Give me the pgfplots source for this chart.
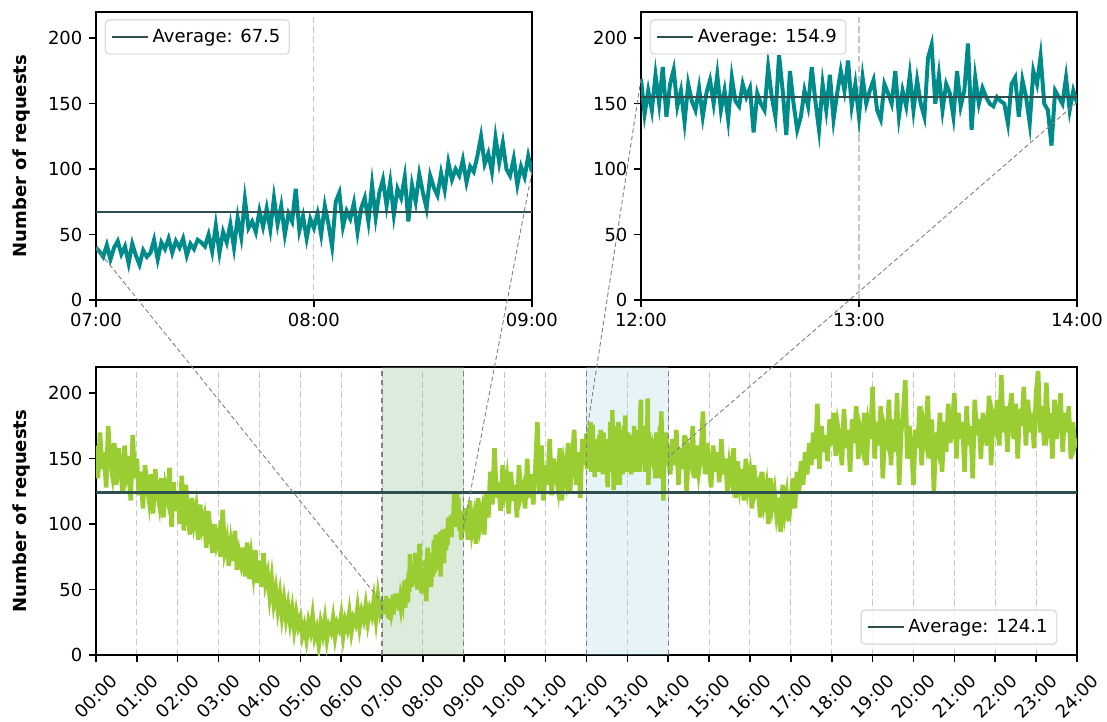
\documentclass[border=0pt]{standalone}
\usepackage{fontspec}
\setmainfont{DejaVu Sans}
\usepackage{pgfplots}
\usepackage{pgfplotstable}
\pgfplotsset{compat=1.18}
\definecolor{tealc}{HTML}{008B8B}
\definecolor{ygreen}{HTML}{9ACD32}
\definecolor{dsg}{HTML}{2F4F4F}
\definecolor{shadeA}{HTML}{8FBC8F}
\definecolor{shadeB}{HTML}{ADD8E6}
\definecolor{gridc}{HTML}{C8C8C8}

% 07:00-09:00, one value per minute
\pgfplotstableread[row sep=\\]{y\\
40\\37\\33\\42\\31\\40\\45\\35\\41\\28\\
43\\34\\27\\38\\33\\36\\46\\31\\44\\39\\
47\\36\\45\\40\\47\\34\\43\\39\\46\\44\\
41\\50\\37\\57\\36\\52\\44\\58\\40\\63\\
48\\77\\55\\60\\52\\68\\56\\70\\54\\78\\
58\\72\\50\\66\\60\\85\\53\\64\\47\\62\\
55\\66\\50\\72\\58\\41\\75\\82\\56\\68\\
62\\74\\52\\70\\78\\60\\88\\63\\82\\92\\
72\\90\\65\\85\\78\\94\\60\\88\\75\\96\\
82\\70\\95\\86\\80\\97\\84\\105\\92\\100\\
95\\107\\90\\102\\98\\110\\125\\104\\112\\98\\
124\\105\\120\\100\\95\\108\\88\\102\\94\\110\\
98\\}\topL

% 12:00-14:00, one value per minute
\pgfplotstableread[row sep=\\]{y\\
169\\142\\160\\145\\172\\150\\178\\140\\165\\176\\
148\\160\\136\\165\\152\\145\\162\\140\\158\\168\\
150\\172\\145\\160\\138\\170\\152\\148\\165\\155\\
162\\128\\158\\150\\145\\178\\155\\140\\187\\160\\
126\\175\\150\\130\\140\\160\\148\\178\\152\\130\\
165\\145\\172\\138\\158\\175\\160\\183\\148\\165\\
140\\170\\150\\160\\168\\145\\138\\165\\158\\150\\
175\\140\\160\\148\\172\\145\\168\\150\\140\\185\\
195\\150\\172\\145\\165\\158\\140\\175\\148\\160\\
196\\130\\170\\150\\162\\155\\150\\148\\155\\152\\
150\\135\\165\\170\\140\\168\\155\\135\\175\\165\\
186\\150\\145\\118\\160\\155\\150\\170\\145\\160\\
151\\}\topR

% 00:00-07:00, every 3 minutes
\pgfplotstableread[row sep=\\]{y\\
160\\135\\170\\142\\155\\128\\175\\148\\138\\162\\130\\158\\145\\125\\160\\140\\152\\118\\168\\135\\
150\\122\\140\\112\\145\\130\\118\\138\\108\\142\\125\\115\\135\\105\\128\\120\\143\\98\\132\\110\\
125\\100\\137\\95\\130\\108\\92\\120\\102\\112\\88\\115\\98\\105\\82\\110\\95\\78\\100\\85\\
92\\75\\111\\80\\88\\68\\85\\72\\95\\65\\78\\70\\82\\60\\86\\58\\75\\62\\80\\55\\
72\\52\\78\\55\\62\\45\\58\\40\\50\\35\\46\\30\\42\\28\\38\\25\\35\\20\\32\\22\\
28\\15\\22\\12\\25\\18\\30\\14\\20\\8\\24\\16\\27\\12\\22\\18\\28\\14\\24\\20\\
30\\15\\26\\20\\32\\18\\28\\24\\36\\22\\33\\27\\38\\25\\35\\30\\42\\28\\45\\33\\40\\}\segA

% 09:00-12:00, every 3 minutes
\pgfplotstableread[row sep=\\]{y\\
98\\112\\88\\118\\95\\105\\85\\120\\100\\110\\92\\
125\\105\\140\\115\\158\\120\\132\\110\\145\\125\\
135\\108\\140\\118\\130\\105\\145\\122\\128\\112\\
150\\120\\138\\115\\142\\178\\125\\160\\118\\145\\
130\\165\\122\\150\\138\\128\\158\\118\\145\\135\\
162\\125\\150\\172\\130\\155\\120\\165\\145\\169\\}\segB

% 14:00-24:00, every 3 minutes
\pgfplotstableread[row sep=\\]{y\\
151\\138\\165\\145\\172\\130\\158\\142\\168\\125\\155\\148\\175\\135\\160\\140\\152\\186\\138\\162\\
145\\128\\160\\140\\155\\132\\165\\138\\150\\125\\145\\135\\158\\120\\148\\130\\142\\118\\150\\128\\
138\\112\\145\\125\\130\\105\\140\\118\\128\\100\\135\\115\\125\\108\\120\\94\\130\\110\\122\\102\\
118\\135\\112\\140\\125\\148\\130\\155\\138\\162\\145\\170\\150\\192\\142\\175\\155\\168\\148\\180\\
160\\185\\152\\175\\165\\145\\188\\158\\172\\140\\180\\162\\190\\150\\170\\160\\185\\145\\175\\165\\
205\\150\\178\\160\\190\\135\\172\\165\\195\\145\\180\\155\\200\\130\\170\\185\\210\\150\\175\\160\\
130\\172\\158\\190\\145\\175\\165\\198\\150\\180\\125\\170\\160\\185\\140\\178\\155\\192\\162\\175\\
200\\150\\185\\165\\178\\140\\190\\160\\175\\135\\195\\168\\180\\150\\185\\170\\160\\198\\145\\182\\
175\\195\\160\\214\\170\\190\\155\\185\\200\\165\\192\\150\\188\\175\\205\\160\\195\\170\\185\\158\\
200\\217\\170\\190\\160\\208\\175\\185\\150\\195\\165\\180\\200\\155\\185\\170\\190\\150\\178\\160\\165\\}\segC

\pgfplotsset{
  panel/.style={
    scale only axis, height=160pt,
    ymin=0, ymax=220, ytick={0,50,100,150,200},
    axis line style={line width=1pt},
    tick style={line width=0.9pt, black},
    major tick length=4pt, tick align=outside, tick pos=left,
    xmajorgrids,
    major grid style={gridc, dash pattern=on 3.5pt off 2pt, line width=0.6pt},
    /pgf/number format/assume math mode=true,
    tick label style={font=\fontsize{10}{12}\selectfont},
    ylabel style={font=\fontsize{10}{12}\selectfont\bfseries},
    ylabel shift=3pt,
    legend cell align=left,
    legend style={draw=gray!25, rounded corners=2pt, fill=white, fill opacity=0.8,
      text opacity=1, line width=0.8pt, font=\fontsize{10}{12}\selectfont,
      inner xsep=3pt, inner ysep=3pt},
    legend image code/.code={\draw[##1] (0pt,0pt) -- (20pt,0pt);},
    clip=true,
  },
}

\begin{document}
\begin{tikzpicture}
\path[use as bounding box] (-53.3pt,-36.7pt) rectangle (561.7pt,363.9pt);

% top-left zoom
\begin{axis}[panel, at={(0pt,197.2pt)}, anchor=south west, width=242.2pt,
  xmin=7, xmax=9, xtick={7,8,9}, xticklabels={07:00,08:00,09:00},
  ylabel={Number of requests},
  legend style={at={(0.02,0.975)}, anchor=north west}]
  \addplot[tealc, line width=2.2pt, forget plot] table[x expr=7+\coordindex/60, y=y] {\topL};
  \addplot[dsg, line width=1.3pt] coordinates {(7,67.5) (9,67.5)};
  \addlegendentry{Average: 67.5}
  \coordinate (TLa) at (axis cs:7,40);
  \coordinate (TLb) at (axis cs:9,98);
\end{axis}

% top-right zoom
\begin{axis}[panel, at={(302.8pt,197.2pt)}, anchor=south west, width=242.2pt,
  xmin=12, xmax=14, xtick={12,13,14}, xticklabels={12:00,13:00,14:00},
  legend style={at={(0.02,0.975)}, anchor=north west}]
  \addplot[tealc, line width=2.2pt, forget plot] table[x expr=12+\coordindex/60, y=y] {\topR};
  \addplot[dsg, line width=1.3pt] coordinates {(12,154.9) (14,154.9)};
  \addlegendentry{Average: 154.9}
  \coordinate (TRa) at (axis cs:12,169);
  \coordinate (TRb) at (axis cs:14,151);
\end{axis}

% full day
\begin{axis}[panel, at={(0pt,0pt)}, anchor=south west, width=545pt,
  xmin=0, xmax=24, xtick={0,1,...,24},
  xticklabels={00:00,01:00,02:00,03:00,04:00,05:00,06:00,07:00,08:00,09:00,10:00,11:00,12:00,13:00,14:00,15:00,16:00,17:00,18:00,19:00,20:00,21:00,22:00,23:00,24:00},
  xticklabel style={yshift=-19pt, rotate=45, anchor=center},
  ylabel={Number of requests},
  legend style={at={(0.98,0.035)}, anchor=south east}]
  \fill[shadeA, fill opacity=0.3] (axis cs:7,0) rectangle (axis cs:9,220);
  \fill[shadeB, fill opacity=0.3] (axis cs:12,0) rectangle (axis cs:14,220);
  \addplot[ygreen, line width=2.5pt, forget plot] table[x expr=\coordindex*0.05, y=y] {\segA};
  \addplot[ygreen, line width=2.5pt, forget plot] table[x expr=7+\coordindex/60, y=y] {\topL};
  \addplot[ygreen, line width=2.5pt, forget plot] table[x expr=9+\coordindex*0.05, y=y] {\segB};
  \addplot[ygreen, line width=2.5pt, forget plot] table[x expr=12+\coordindex/60, y=y] {\topR};
  \addplot[ygreen, line width=2.5pt, forget plot] table[x expr=14+\coordindex*0.05, y=y] {\segC};
  \draw[gray, line width=0.7pt, dash pattern=on 3pt off 2pt] (axis cs:7,0) -- (axis cs:7,220);
  \draw[gray, line width=0.7pt, dash pattern=on 3pt off 2pt] (axis cs:9,0) -- (axis cs:9,220);
  \draw[gray, line width=0.7pt, dash pattern=on 3pt off 2pt] (axis cs:12,0) -- (axis cs:12,220);
  \draw[gray, line width=0.7pt, dash pattern=on 3pt off 2pt] (axis cs:14,0) -- (axis cs:14,220);
  \addplot[dsg, line width=1.3pt] coordinates {(0,124.1) (24,124.1)};
  \addlegendentry{Average: 124.1}
  \coordinate (Ba) at (axis cs:7,40);
  \coordinate (Bb) at (axis cs:9,98);
  \coordinate (Bc) at (axis cs:12,169);
  \coordinate (Bd) at (axis cs:14,151);
\end{axis}

\begin{scope}[gray, line width=0.5pt, dash pattern=on 2.5pt off 1.5pt]
  \draw (TLa) -- (Ba);
  \draw (TLb) -- (Bb);
  \draw (TRa) -- (Bc);
  \draw (TRb) -- (Bd);
\end{scope}
\end{tikzpicture}
\end{document}
